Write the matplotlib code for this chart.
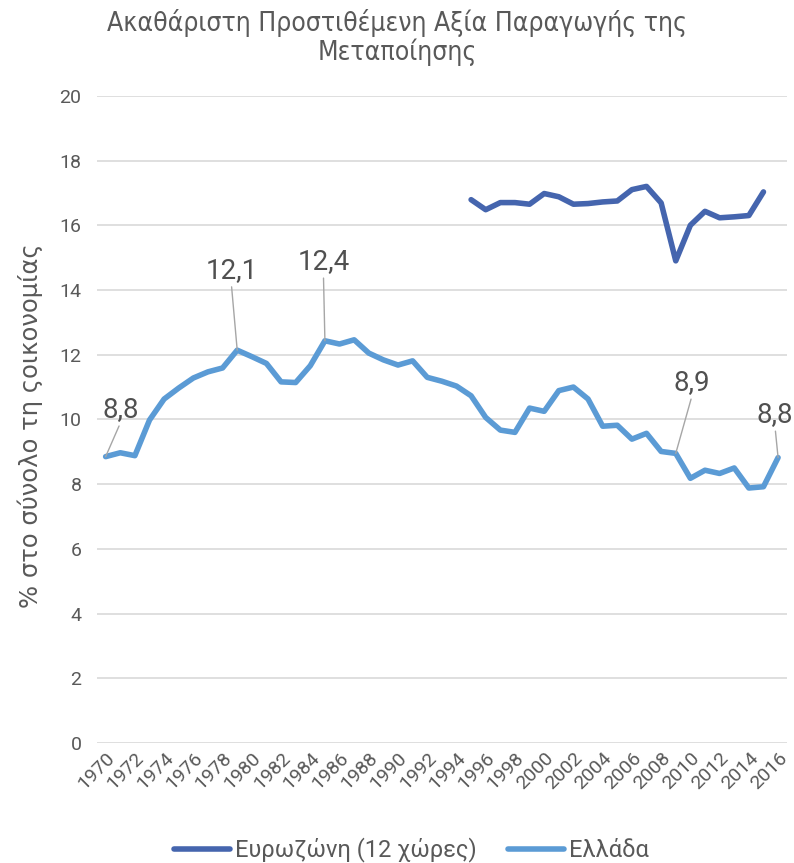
import matplotlib
matplotlib.use("Agg")
import matplotlib.pyplot as plt

plt.rcParams['font.family'] = ['Roboto', 'DejaVu Sans']

years = list(range(1970, 2017))
greece = [8.85, 8.97, 8.88, 9.98, 10.63, 10.97, 11.28, 11.47, 11.59, 12.14,
          11.94, 11.73, 11.16, 11.14, 11.66, 12.43, 12.33, 12.46, 12.05, 11.84,
          11.68, 11.81, 11.30, 11.18, 11.03, 10.73, 10.06, 9.67, 9.60, 10.35,
          10.25, 10.89, 11.00, 10.63, 9.79, 9.82, 9.39, 9.57, 9.01, 8.95,
          8.18, 8.43, 8.33, 8.50, 7.88, 7.92, 8.82]
ez_years = list(range(1995, 2016))
eurozone = [16.79, 16.48, 16.70, 16.70, 16.65, 16.98, 16.88, 16.65, 16.67, 16.72,
            16.75, 17.10, 17.20, 16.69, 14.90, 16.00, 16.43, 16.23, 16.26, 16.30,
            17.03]

# labelled points: year, label, text position
labels = [(1970, "8,8", 1971.0, 10.3),
          (1979, "12,1", 1978.6, 14.6),
          (1985, "12,4", 1984.9, 14.87),
          (2009, "8,9", 2010.1, 11.13),
          (2016, "8,8", 2015.8, 10.14)]

txt = '#595959'
fig = plt.figure(figsize=(7.94, 8.63), dpi=100)
ax = fig.add_axes([0.122, 0.139, 0.869, 0.750])

ax.plot(ez_years, eurozone, color='#4565AE', lw=4, solid_capstyle='round',
        label='Ευρωζώνη (12 χώρες)')
ax.plot(years, greece, color='#5B9BD5', lw=4, solid_capstyle='round',
        label='Ελλάδα')

for yr, lab, tx, ty in labels:
    v = greece[years.index(yr)]
    ax.annotate(lab, xy=(yr, v), xytext=(tx, ty), ha='center', va='center',
                fontsize=20, color='#505050',
                arrowprops=dict(arrowstyle='-', color='#a6a6a6', lw=1,
                                shrinkA=0, shrinkB=0, relpos=(0.5, 0)))

ax.set_ylim(0, 20)
ax.set_yticks(range(0, 21, 2))
ax.set_xlim(1969.4, 2016.6)
ax.set_xticks(range(1970, 2017, 2))
ax.set_xticklabels([str(y) for y in range(1970, 2017, 2)], rotation=45,
                   ha='right', rotation_mode='anchor', fontsize=14, color=txt)
ax.tick_params(axis='y', labelsize=14, labelcolor=txt, length=0, pad=11)
ax.tick_params(axis='x', length=0, pad=4)
ax.grid(axis='y', color='#D9D9D9', lw=1.2)
ax.set_axisbelow(True)
for s in ax.spines.values():
    s.set_visible(False)

ax.set_ylabel('% στο σύνολο τη ςοικονομίας', fontsize=17.5, color=txt,
              family=['DejaVu Sans'])
ax.yaxis.set_label_coords(-0.078, 0.49)

fig.text(0.5, 0.99, 'Ακαθάριστη Προστιθέμενη Αξία Παραγωγής της\nΜεταποίησης',
         ha='center', va='top', fontsize=19, color=txt, linespacing=1.1,
         family=['DejaVu Sans'], stretch='condensed')

fig.legend(loc='lower center', bbox_to_anchor=(0.518, -0.024), ncol=2,
           frameon=False, fontsize=17, labelcolor=txt, handlelength=2.4,
           columnspacing=1.3, handletextpad=0.2)

fig.savefig('out.png', dpi=100)
